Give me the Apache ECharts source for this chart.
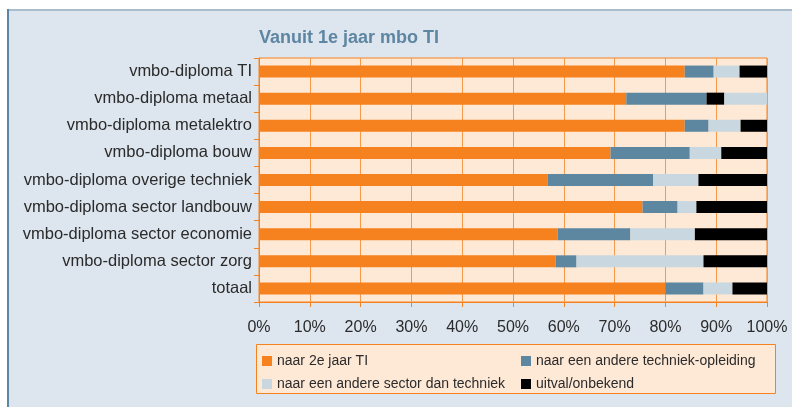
<!DOCTYPE html>
<html>
<head>
<meta charset="utf-8">
<script src="https://cdn.jsdelivr.net/npm/echarts@6/dist/echarts.min.js"></script>
<style>
  html, body { margin: 0; padding: 0; background: #fff; }
  #chart { width: 792px; height: 407px; }
</style>
</head>
<body>
<div id="chart"></div>
<script>
// categorieen (van boven naar beneden)
var categories = [
    'vmbo-diploma TI',
    'vmbo-diploma metaal',
    'vmbo-diploma metalektro',
    'vmbo-diploma bouw',
    'vmbo-diploma overige techniek',
    'vmbo-diploma sector landbouw',
    'vmbo-diploma sector economie',
    'vmbo-diploma sector zorg',
    'totaal'
];
// percentages per categorie
var naar2eJaar     = [83.8, 72.3, 83.8, 69.2, 56.8, 75.5, 58.8, 58.4, 80.0];
var andereTechniek = [ 5.7, 15.8,  4.7, 15.6, 20.8,  6.9, 14.3,  4.1,  7.5];
var andereSector   = [ 5.1,  8.4,  6.3,  6.2,  8.9,  3.7, 12.7, 25.0,  5.7];
var uitval         = [ 5.4,  3.5,  5.2,  9.0, 13.5, 13.9, 14.2, 12.5,  6.8];
// bij deze categorie staat uitval voor 'andere sector' in de balk
var uitvalEerst = ['vmbo-diploma metaal'];

var xTicks = [0, 10, 20, 30, 40, 50, 60, 70, 80, 90, 100];

var legendNames = [
    'naar 2e jaar TI',
    'naar een andere techniek-opleiding',
    'naar een andere sector dan techniek',
    'uitval/onbekend'
];

(function () {
    var myChart = echarts.init(document.getElementById('chart'));
    var oranje = '#f5821f', blauw = '#5d87a1', lichtblauw = '#c9d7e1', zwart = '#000000';
    var tekst = '#2b2b2b';

    // andere sector opsplitsen: voor of na uitval
    var sectorVoor = [], sectorNa = [];
    for (var i = 0; i < categories.length; i++) {
        if (uitvalEerst.indexOf(categories[i]) >= 0) {
            sectorVoor.push(0);
            sectorNa.push(andereSector[i]);
        } else {
            sectorVoor.push(andereSector[i]);
            sectorNa.push(0);
        }
    }

    function bar(name, data, color) {
        return {
            name: name,
            type: 'bar',
            stack: 'totaal',
            barWidth: 12,
            data: data,
            itemStyle: { color: color },
            emphasis: { disabled: true }
        };
    }

    var option = {
        backgroundColor: '#ffffff',
        animation: false,
        textStyle: { fontFamily: 'Liberation Sans, Arial, sans-serif' },
        graphic: [
            { type: 'rect', shape: { x: 8, y: 9, width: 800, height: 420 },
              style: { fill: '#dde5ee' }, silent: true, z: -10 },
            { type: 'line', shape: { x1: 8, y1: 10, x2: 800, y2: 10 },
              style: { stroke: '#a9bdcd', lineWidth: 2 }, silent: true, z: -9 },
            { type: 'line', shape: { x1: 8, y1: 9, x2: 8, y2: 420 },
              style: { stroke: '#5b86a6', lineWidth: 2 }, silent: true, z: -9 },
            // legenda kader
            { type: 'rect', shape: { x: 256.5, y: 344.5, width: 519, height: 49 },
              style: { fill: '#fee8d6', stroke: oranje, lineWidth: 1 }, silent: true, z: -5 }
        ],
        title: {
            text: 'Vanuit 1e jaar mbo TI',
            left: 259,
            top: 29,
            padding: 0,
            textStyle: { color: '#5e86a2', fontSize: 18, fontWeight: 'bold', fontFamily: 'Liberation Sans, Arial, sans-serif' }
        },
        legend: [
            {
                data: [legendNames[0], legendNames[2]],
                orient: 'vertical', left: 262, top: 354, padding: 0,
                itemWidth: 10, itemHeight: 10, itemGap: 9, icon: 'rect',
                textStyle: { color: tekst, fontSize: 14 }
            },
            {
                data: [legendNames[1], legendNames[3]],
                orient: 'vertical', left: 521, top: 354, padding: 0,
                itemWidth: 10, itemHeight: 10, itemGap: 9, icon: 'rect',
                textStyle: { color: tekst, fontSize: 14 }
            }
        ],
        grid: {
            left: 259, right: 25, top: 58, bottom: 105,
            show: true, backgroundColor: '#fee8d6', borderColor: oranje, borderWidth: 1
        },
        xAxis: {
            type: 'value',
            min: xTicks[0],
            max: xTicks[xTicks.length - 1],
            interval: xTicks[1] - xTicks[0],
            axisLine: { show: true, lineStyle: { color: oranje } },
            axisTick: { show: true, length: 5, lineStyle: { color: oranje } },
            splitLine: { show: true, lineStyle: { color: '#f59a4c', width: 1 } },
            axisLabel: { formatter: '{value}%', color: tekst, fontSize: 16, margin: 18 }
        },
        yAxis: {
            type: 'category',
            inverse: true,
            data: categories,
            axisLine: { show: true, lineStyle: { color: oranje } },
            axisTick: { show: true, length: 5, lineStyle: { color: oranje } },
            axisLabel: { color: tekst, fontSize: 16.5, margin: 7 }
        },
        series: [
            bar(legendNames[0], naar2eJaar, oranje),
            bar(legendNames[1], andereTechniek, blauw),
            bar(legendNames[2], sectorVoor, lichtblauw),
            bar(legendNames[3], uitval, zwart),
            bar(legendNames[2], sectorNa, lichtblauw)
        ]
    };

    myChart.setOption(option);
    window.addEventListener('resize', function () {
        myChart.resize();
    });
})();
</script>
</body>
</html>
